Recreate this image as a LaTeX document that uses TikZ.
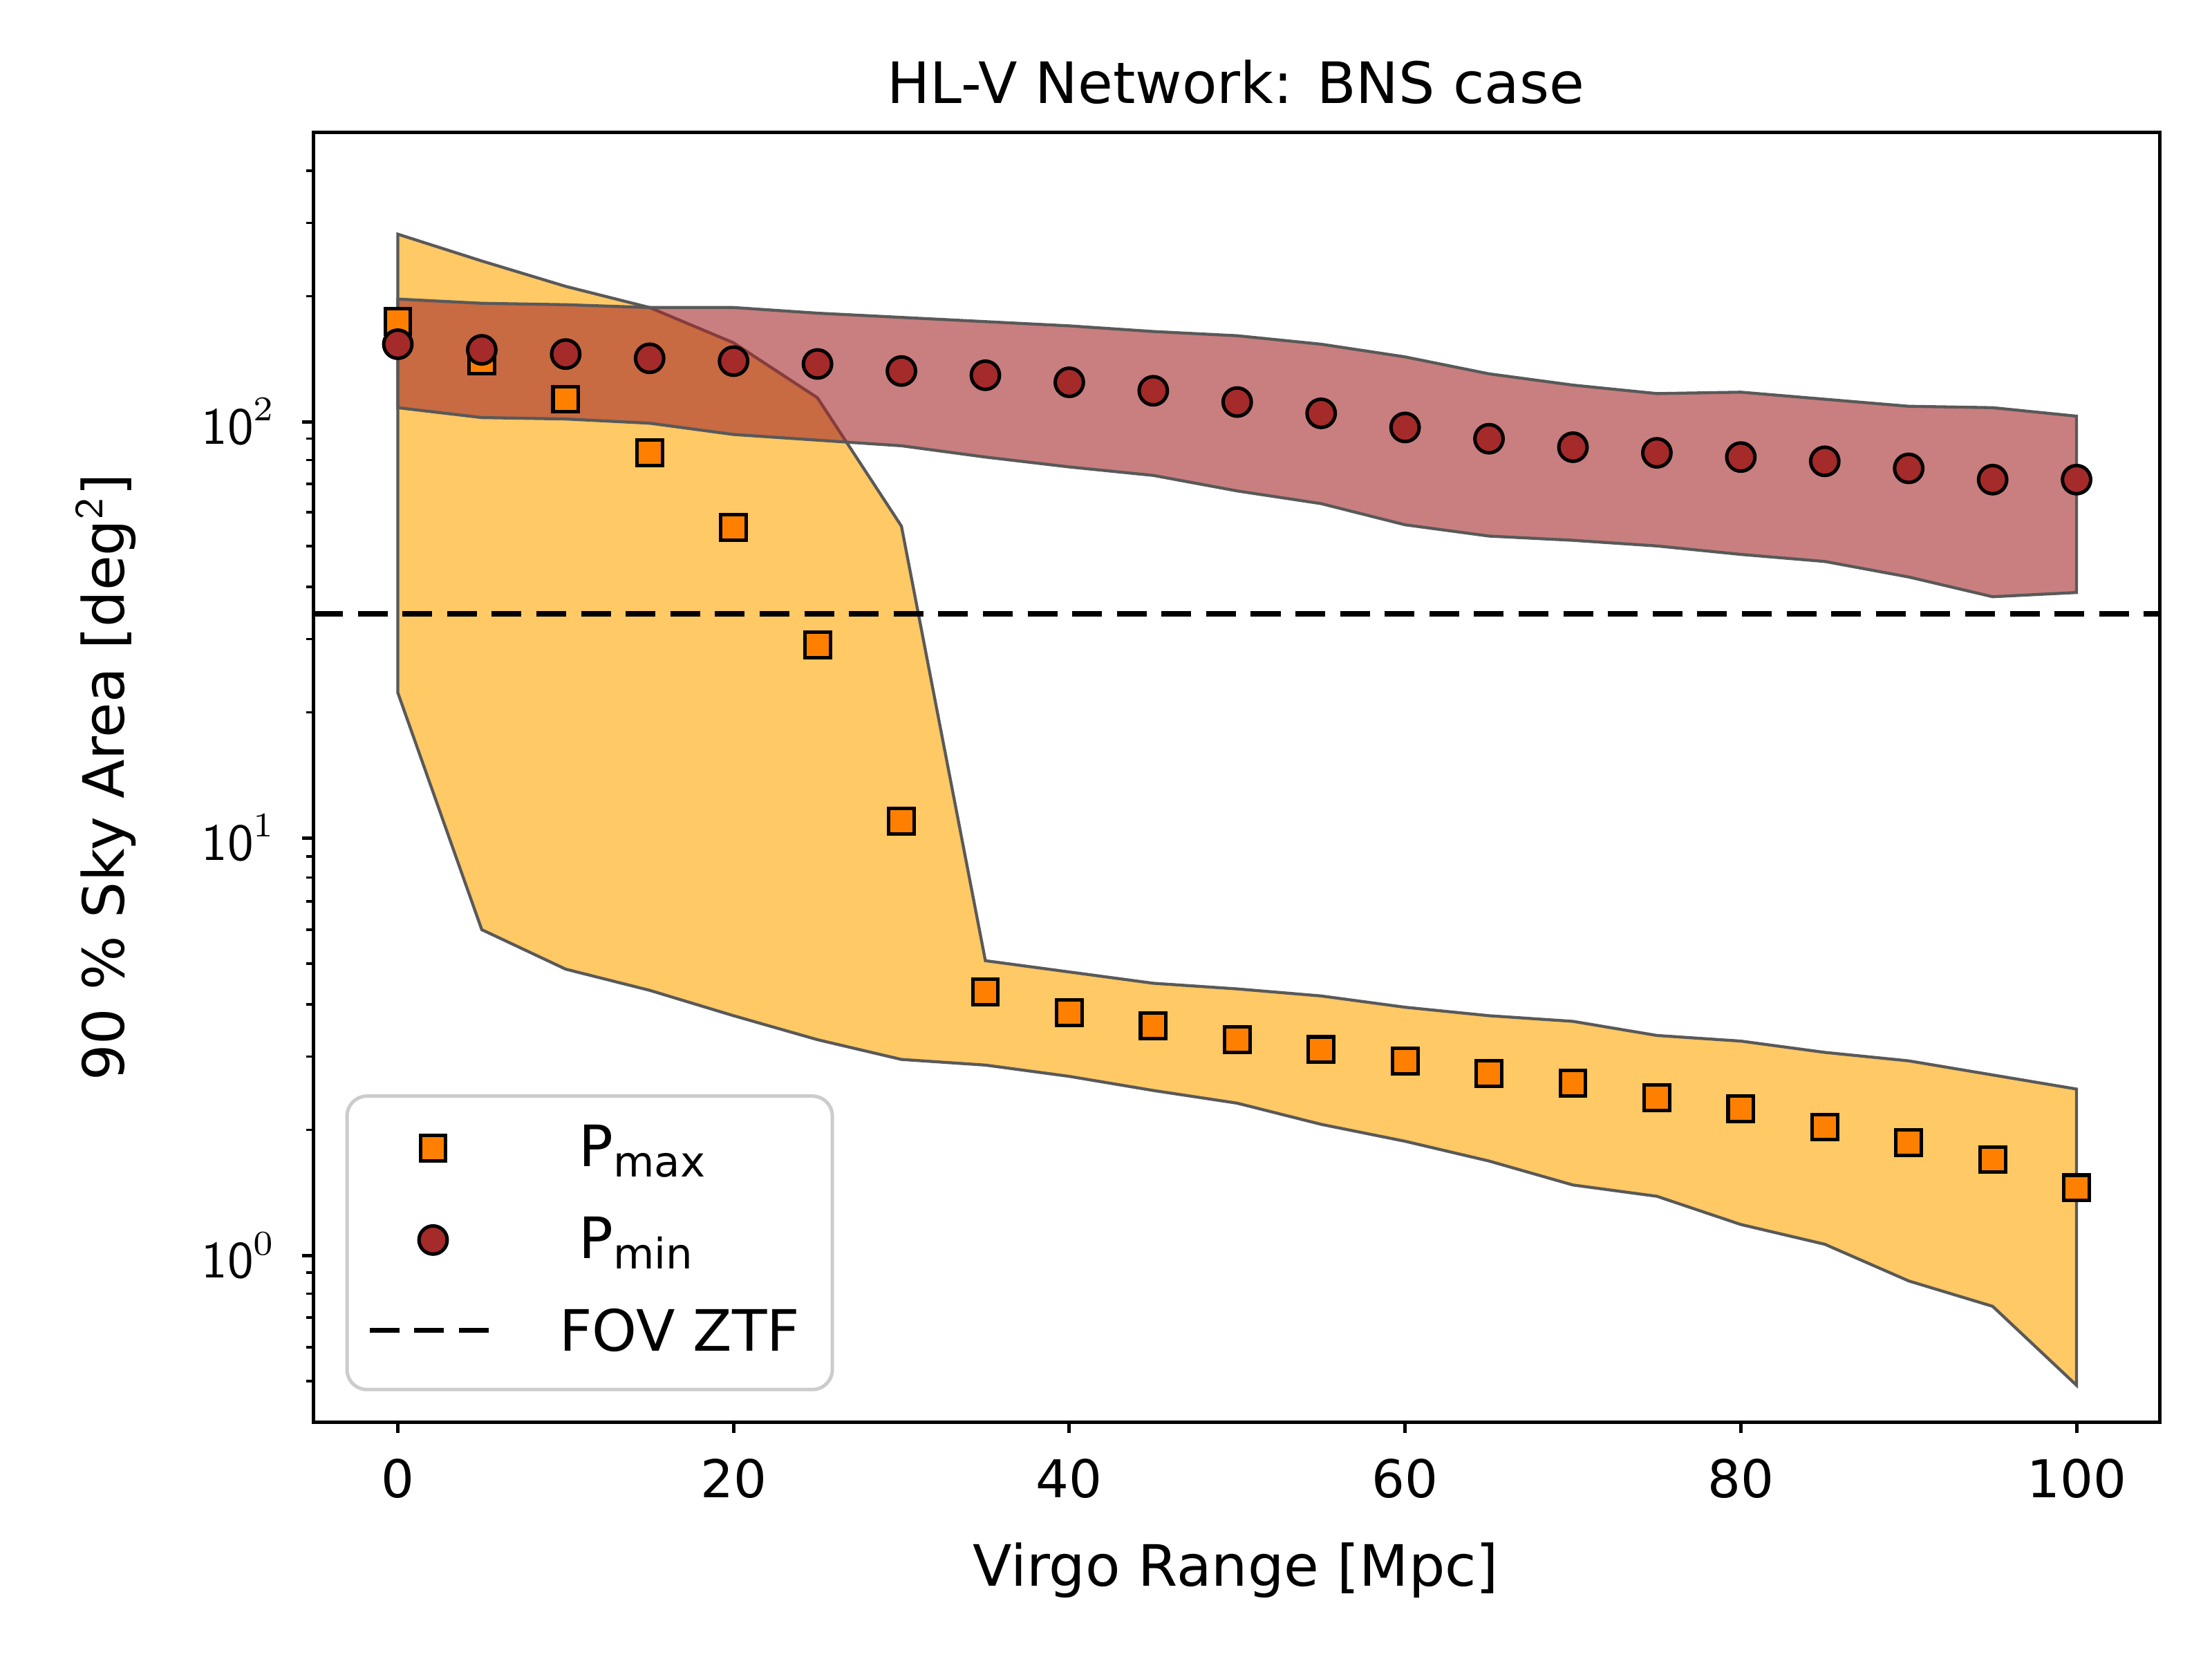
\documentclass[tikz,border=0pt]{standalone}
\usepackage{fontspec}
\setmainfont{DejaVu Sans}
\begin{document}
\begin{tikzpicture}[x=0.01cm,y=-0.01cm,
  bandedge/.style={draw=black!65,line width=0.6pt},
  sqmark/.style={draw=black,fill=orange,line width=0.7pt},
  cimark/.style={draw=black,fill={rgb,255:red,165;green,42;blue,42},line width=0.7pt},
  ticklab/.style={font=\fontsize{10.5}{12}\selectfont},
  axlab/.style={font=\fontsize{11.5}{13}\selectfont}]
\definecolor{orfill}{RGB}{255,165,0}
\definecolor{brfill}{RGB}{165,42,42}
\useasboundingbox (0,0) rectangle (1568,1176);
\def\X#1{282+11.9*#1}
% orange band
\fill[orfill,fill opacity=0.6] (\X{0},166)--(\X{5},185)--(\X{10},203)--(\X{15},218)--(\X{20},243)--(\X{25},282)--(\X{30},373)--(\X{35},681)--(\X{40},689)--(\X{45},697)--(\X{50},701)--(\X{55},706)--(\X{60},714)--(\X{65},720)--(\X{70},724)--(\X{75},734)--(\X{80},738)--(\X{85},746)--(\X{90},752)--(\X{95},762)--(\X{100},772)--(\X{100},982)--(\X{95},926)--(\X{90},908)--(\X{85},882)--(\X{80},868)--(\X{75},848)--(\X{70},840)--(\X{65},823)--(\X{60},809)--(\X{55},797)--(\X{50},782)--(\X{45},773)--(\X{40},763)--(\X{35},755)--(\X{30},751)--(\X{25},737)--(\X{20},720)--(\X{15},702)--(\X{10},687)--(\X{5},659)--(\X{0},491)--cycle;
\draw[bandedge] (\X{0},166)--(\X{5},185)--(\X{10},203)--(\X{15},218)--(\X{20},243)--(\X{25},282)--(\X{30},373)--(\X{35},681)--(\X{40},689)--(\X{45},697)--(\X{50},701)--(\X{55},706)--(\X{60},714)--(\X{65},720)--(\X{70},724)--(\X{75},734)--(\X{80},738)--(\X{85},746)--(\X{90},752)--(\X{95},762)--(\X{100},772)--(\X{100},982)--(\X{95},926)--(\X{90},908)--(\X{85},882)--(\X{80},868)--(\X{75},848)--(\X{70},840)--(\X{65},823)--(\X{60},809)--(\X{55},797)--(\X{50},782)--(\X{45},773)--(\X{40},763)--(\X{35},755)--(\X{30},751)--(\X{25},737)--(\X{20},720)--(\X{15},702)--(\X{10},687)--(\X{5},659)--(\X{0},491)--cycle;
% red band
\fill[brfill,fill opacity=0.6] (\X{0},212)--(\X{5},215)--(\X{10},216)--(\X{15},218)--(\X{20},218)--(\X{25},222)--(\X{30},225)--(\X{35},228)--(\X{40},231)--(\X{45},235)--(\X{50},238)--(\X{55},244)--(\X{60},253)--(\X{65},265)--(\X{70},273)--(\X{75},279)--(\X{80},278)--(\X{85},283)--(\X{90},288)--(\X{95},289)--(\X{100},295)--(\X{100},420)--(\X{95},423)--(\X{90},409)--(\X{85},398)--(\X{80},393)--(\X{75},387)--(\X{70},383)--(\X{65},380)--(\X{60},372)--(\X{55},357)--(\X{50},348)--(\X{45},337)--(\X{40},331)--(\X{35},324)--(\X{30},316)--(\X{25},312)--(\X{20},308)--(\X{15},300)--(\X{10},297)--(\X{5},296)--(\X{0},289)--cycle;
\draw[bandedge] (\X{0},212)--(\X{5},215)--(\X{10},216)--(\X{15},218)--(\X{20},218)--(\X{25},222)--(\X{30},225)--(\X{35},228)--(\X{40},231)--(\X{45},235)--(\X{50},238)--(\X{55},244)--(\X{60},253)--(\X{65},265)--(\X{70},273)--(\X{75},279)--(\X{80},278)--(\X{85},283)--(\X{90},288)--(\X{95},289)--(\X{100},295)--(\X{100},420)--(\X{95},423)--(\X{90},409)--(\X{85},398)--(\X{80},393)--(\X{75},387)--(\X{70},383)--(\X{65},380)--(\X{60},372)--(\X{55},357)--(\X{50},348)--(\X{45},337)--(\X{40},331)--(\X{35},324)--(\X{30},316)--(\X{25},312)--(\X{20},308)--(\X{15},300)--(\X{10},297)--(\X{5},296)--(\X{0},289)--cycle;
% markers
\foreach \x/\y in {0/228,5/256,10/283,15/321,20/374,25/457,30/582,35/703,40/718,45/727,50/737,55/744,60/752,65/761,70/768,75/778,80/786,85/799,90/810,95/822,100/842}
  \draw[sqmark] (\X{\x}-9,\y-9) rectangle (\X{\x}+9,\y+9);
\foreach \x/\y in {0/244,5/248,10/251,15/254,20/256,25/258,30/263,35/266,40/271,45/277,50/285,55/293,60/303,65/311,70/317,75/321,80/324,85/327,90/332,95/340,100/340}
  \draw[cimark] (\X{\x},\y) circle (10);
% dashed FOV
\draw[dashed,line width=1.1pt,dash pattern=on 6pt off 3pt] (222,435)--(1531,435);
% axes
\draw[line width=0.7pt] (222,94) rectangle (1531,1008);
\foreach \v in {0,20,...,100}{
  \draw[line width=0.7pt] (\X{\v},1008)--(\X{\v},1016);
  \node[ticklab,anchor=north] at (\X{\v},1022) {\v};}
\foreach \e/\yy in {0/890,1/594,2/299}{
  \draw[line width=0.7pt] (222,\yy)--(214,\yy);
  \node[ticklab,anchor=east] at (208,\yy) {$\mathsf{10}^{\e}$};}
\foreach \yy in {979,955,934,917,902,
  801,749,712,683,659,639,622,607,
  505,453,416,387,363,343,326,311,
  210,158,121}
  \draw[line width=0.5pt] (222,\yy)--(217,\yy);
\node[axlab] at (876,1113) {Virgo Range [Mpc]};
\node[axlab,rotate=90] at (75,551) {90 \% Sky Area [deg$^{\mathsf{2}}$]};
\node[axlab] at (876,58) {HL-V Network: BNS case};
% legend
\draw[black!20,fill=white,fill opacity=0.8,rounded corners=4pt,line width=0.7pt] (246,777) rectangle (590,985);
\draw[sqmark] (298,805) rectangle (316,823);
\node[axlab,anchor=west] at (398,816) {P\raisebox{-0.35ex}{\fontsize{8.5}{10}\selectfont max}};
\draw[cimark] (307,879) circle (10);
\node[axlab,anchor=west] at (398,881) {P\raisebox{-0.35ex}{\fontsize{8.5}{10}\selectfont min}};
\draw[dashed,line width=1.1pt,dash pattern=on 6pt off 3pt] (262,943)--(350,943);
\node[axlab,anchor=west] at (384,943) {FOV ZTF};
\end{tikzpicture}
\end{document}
